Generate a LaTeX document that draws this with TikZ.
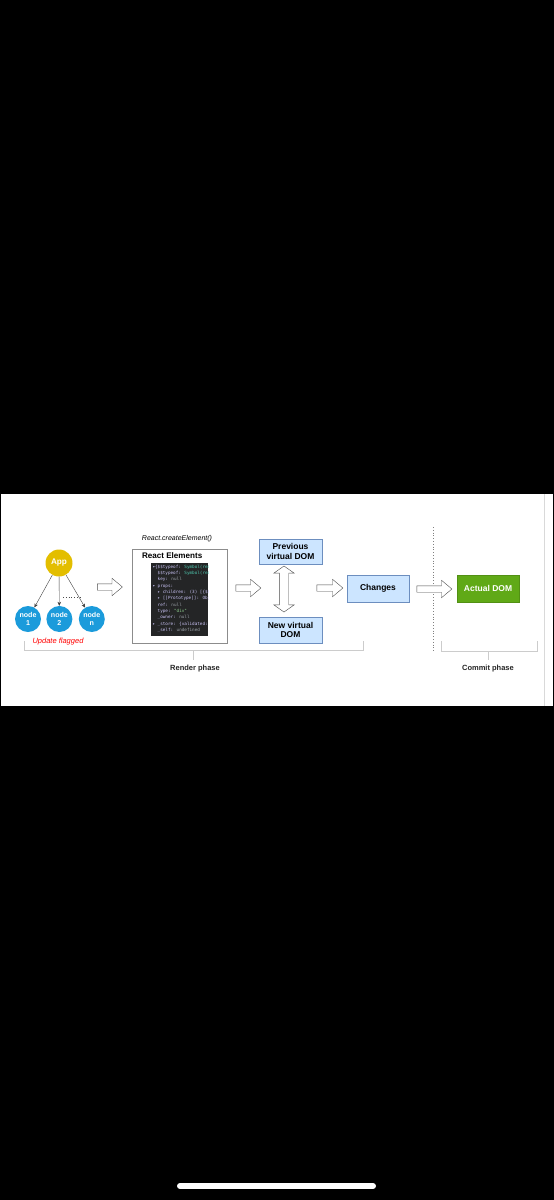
\documentclass[tikz,border=0pt]{standalone}
\usepackage{fontspec}
\setmainfont{Liberation Sans}
\newfontfamily\codefont{DejaVu Sans Mono}
\usepackage{tikz}
\usetikzlibrary{positioning, arrows.meta, shapes.arrows}
\definecolor{appyellow}{HTML}{E3BE00}
\definecolor{nodeblue}{HTML}{1B9BDB}
\definecolor{boxblue}{HTML}{CCE5FF}
\definecolor{boxline}{HTML}{6C8EBF}
\definecolor{domgreen}{HTML}{60A917}
\definecolor{codebg}{HTML}{242526}
\definecolor{codekey}{HTML}{C9C3F5}
\definecolor{codeval}{HTML}{4EC9B0}
\definecolor{codestr}{HTML}{8FD18F}
\definecolor{codenull}{HTML}{9AA0A6}

\begin{document}
\begin{tikzpicture}[
            x=1pt, y=-1pt,
            treenode/.style={circle, fill=nodeblue, minimum size=26pt, inner sep=0pt, text=white, align=center, font=\bfseries\fontsize{7.1}{7.8}\selectfont},
            domblock/.style={rectangle, draw=boxline, fill=boxblue, minimum width=63pt, minimum height=26pt, align=center, font=\bfseries\fontsize{8.5}{9.5}\selectfont},
            bigarrow/.style={single arrow, draw=black!70, fill=white, minimum width=17pt, single arrow head extend=5.5pt, single arrow tip angle=80, inner sep=3pt},
            link/.style={-{Stealth[length=4pt, width=3.5pt]}, black!75},
            phase/.style={draw=black!20, line width=0.8pt},
            phaselabel/.style={text=black!85, font=\bfseries\fontsize{7.5}{8}\selectfont}
        ]
        % screen and panel
        \fill[black] (0,0) rectangle (554,1200);
        \fill[white] (1,494) rectangle (553,706);
        \draw[black!15] (544,494) -- (544,706);
        \draw[white, line width=6pt, line cap=round] (180,1186) -- (373,1186);

        % component tree
        \node[circle, fill=appyellow, minimum size=27pt, inner sep=0pt, text=white, font=\bfseries\fontsize{8.2}{9}\selectfont] (app) at (59,563) {App};
        \node[treenode] (node1) at (28,619) {node\\1};
        \node[treenode, right=5pt of node1] (node2) {node\\2};
        \node[treenode, right=6pt of node2] (noden) {node\\n};
        \draw[link] (app) -- (node1);
        \draw[link] (app) -- (node2);
        \draw[link] (app) -- (noden);
        \draw[black!70, dotted, thick] (63,597) -- (81,597);
        \node[text=red, font=\itshape\fontsize{7.5}{8}\selectfont] (flagged) at (58,642) {Update flagged};

        % react elements
        \node[font=\itshape\fontsize{7}{8}\selectfont] (create) at (177,539) {React.createElement()};
        \node[draw=black!45, minimum width=95pt, minimum height=94pt, inner sep=0pt] (elements) at (179.5,596) {};
        \node[anchor=north west, inner sep=0pt, font=\bfseries\fontsize{8.1}{9}\selectfont] (elemtitle) at ([xshift=10pt, yshift=-4pt]elements.north west) {React Elements};
        \node[fill=codebg, minimum width=57pt, minimum height=73pt, inner sep=0pt] (code) at (179.5,599.5) {};
        \begin{scope}
            \clip (code.north west) rectangle (code.south east);
            \node[anchor=north west, inner sep=0pt, align=left, text=codekey, font=\codefont\fontsize{4.3}{6.3}\selectfont] (codetext) at ([xshift=1.5pt, yshift=-2pt]code.north west) {%
                ▾\{\$\$typeof: \textcolor{codeval}{Symbol(react.element)}\\
                \ \ \$\$typeof: \textcolor{codeval}{Symbol(react.element)}\\
                \ \ key: \textcolor{codenull}{null}\\
                ▾ props:\\
                \ \ ▸ children: (3) [\{\$\$typeof: ...\\
                \ \ ▸ [[Prototype]]: Object\\
                \ \ ref: \textcolor{codenull}{null}\\
                \ \ type: \textcolor{codestr}{"div"}\\
                \ \ \_owner: \textcolor{codenull}{null}\\
                ▸ \_store: \{validated: false\}\\
                \ \ \_self: \textcolor{codenull}{undefined}};
        \end{scope}

        % virtual DOM comparison
        \node[domblock, minimum height=25pt] (prevdom) at (290.5,551.5) {Previous\\virtual DOM};
        \node[domblock] (newdom) at (290.5,630) {New virtual\\DOM};
        \node[double arrow, draw=black!70, fill=white, shape border rotate=90, minimum height=46pt, minimum width=20pt, double arrow head extend=5.5pt, double arrow tip angle=110, inner sep=4.5pt] (compare) at (284,589) {};
        \node[domblock, minimum width=62pt, minimum height=27pt] (changes) at (378,588.5) {Changes};
        \node[domblock, draw=domgreen!85!black, fill=domgreen, text=white, minimum width=62pt, minimum height=27pt] (actualdom) at (488,588.5) {Actual DOM};

        % flow arrows
        \node[bigarrow, minimum height=25pt] (flow1) at (108,587) {};
        \node[bigarrow, minimum height=25pt] (flow2) at (246.5,588) {};
        \node[bigarrow, minimum height=26pt] (flow3) at (328,588) {};
        \draw[black!50, dotted, thick] (433,527) -- (433,651);
        \node[bigarrow, minimum height=35pt] (flow4) at (432.5,589) {};

        % phases
        \draw[phase] (24,641) -- (24,650) -- (363,650) -- (363,641);
        \draw[phase] (193,650) -- (193,660);
        \node[phaselabel] (render) at (195,669) {Render phase};
        \draw[phase] (441,641) -- (441,651) -- (537,651) -- (537,641);
        \draw[phase] (488,651) -- (488,660);
        \node[phaselabel] (commit) at (488,669) {Commit phase};
    \end{tikzpicture}
\end{document}
